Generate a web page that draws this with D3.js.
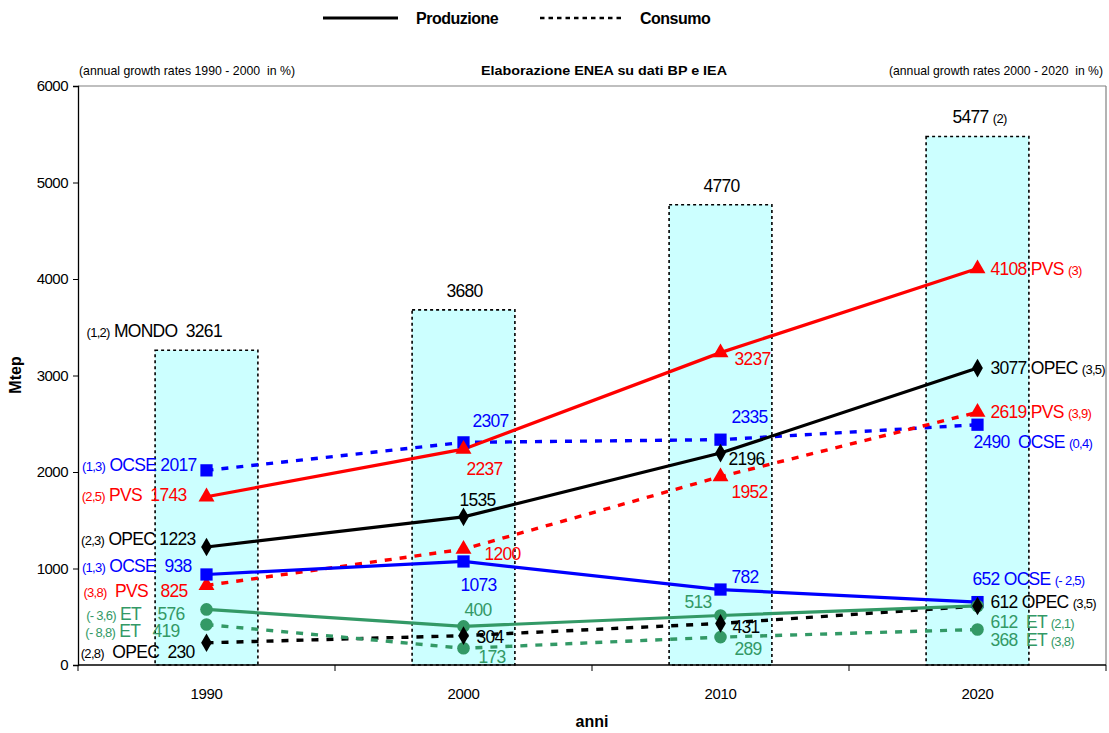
<!DOCTYPE html>
<html>
<head>
<meta charset="utf-8">
<script src="https://cdn.jsdelivr.net/npm/d3@7"></script>
<style>
  html, body { margin: 0; padding: 0; background: #fff; }
  svg { display: block; font-family: "Liberation Sans", Arial, sans-serif; }
  text { white-space: pre; }
</style>
</head>
<body>
<svg id="chart" width="1109" height="733"></svg>
<script>
// ---- data (Mtep) ----
const years = ["1990", "2000", "2010", "2020"];
const yTicks = [0, 1000, 2000, 3000, 4000, 5000, 6000];

// world total (bars)
const mondo = [3261, 3680, 4770, 5477];
const mondoRate1990 = "(1,2)";
const mondoRate2020 = "(2)";

// production (solid lines)
const prodOCSE = [938, 1073, 782, 652];
const prodOPEC = [1223, 1535, 2196, 3077];
const prodPVS  = [1743, 2237, 3237, 4108];
const prodET   = [576, 400, 513, 612];

// consumption (dashed lines)
const consOCSE = [2017, 2307, 2335, 2490];
const consOPEC = [230, 304, 431, 612];
const consPVS  = [825, 1200, 1952, 2619];
const consET   = [419, 173, 289, 368];

// series order, names and annual growth rates
const seriesValues = [prodOCSE, prodOPEC, prodPVS, prodET, consOCSE, consOPEC, consPVS, consET];
const seriesNames  = ["OCSE", "OPEC", "PVS", "ET", "OCSE", "OPEC", "PVS", "ET"];
const seriesKinds  = ["prod", "prod", "prod", "prod", "cons", "cons", "cons", "cons"];
const rates1990    = ["(1,3)", "(2,3)", "(2,5)", "(- 3,6)", "(1,3)", "(2,8)", "(3,8)", "(- 8,8)"];
const rates2020    = ["(- 2,5)", "(3,5)", "(3)", "(2,1)", "(0,4)", "(3,5)", "(3,9)", "(3,8)"];

// ---- styles ----
const colors  = ["#0000FF", "#000000", "#FF0000", "#339966", "#0000FF", "#000000", "#FF0000", "#339966"];
const markers = ["square", "diamond", "triangle", "circle", "square", "diamond", "triangle", "circle"];
// label placement per point: [dx, dy(baseline), anchor]
const labelPlace = [
  [[-15, -2.5, "end"], [-3, 30, "start"], [11, -6.5, "start"], [-5, -17, "start"]],   // prod OCSE
  [[-11, -2, "end"], [-4, -11, "start"], [8, 12, "start"], [13, 6, "start"]],         // prod OPEC
  [[-20, 4, "end"], [3, 26, "start"], [14, 12, "start"], [13, 6.5, "start"]],         // prod PVS
  [[-22, 11, "end"], [1, -10, "start"], [-9, -7.5, "end"], [13, 22, "start"]],        // prod ET
  [[-10, 1, "end"], [9, -15.5, "start"], [11, -17, "start"], [-4, 23, "start"]],      // cons OCSE
  [[-12, 15, "end"], [13, 7, "start"], [12, 10, "start"], [13, 2, "start"]],          // cons OPEC
  [[-19, 12, "end"], [21, 11, "start"], [11, 21, "start"], [13, 6, "start"]],         // cons PVS
  [[-27, 12.5, "end"], [15, 15, "start"], [14, 18, "start"], [13, 17, "start"]]       // cons ET
];
// spacing used inside the first / last labels
const gap1990 = [[" ", "  "], [" ", " "], [" ", "  "], [" ", "    "], [" ", " "], ["  ", "  "], ["  ", "   "], [" ", "   "]];
const gap2020 = [" ", " ", " ", "  ", "  ", " ", " ", "  "];

const svg = d3.select("#chart");
const margin = { left: 78, right: 1106, top: 86, bottom: 665 };

const x = d3.scaleBand().domain(years).range([margin.left, margin.right]).padding(0);
const y = d3.scaleLinear().domain([0, 6000]).range([margin.bottom, margin.top]);
const cx = d => x(d) + x.bandwidth() / 2;

const bigFont = 17.5, smallFont = 13, spacing = "-0.7px";

// ---- plot frame ----
svg.append("line").attr("x1", margin.left).attr("x2", margin.right)
  .attr("y1", margin.top).attr("y2", margin.top).attr("stroke", "#808080").attr("stroke-width", 1.2);
svg.append("line").attr("x1", margin.right).attr("x2", margin.right)
  .attr("y1", margin.top).attr("y2", margin.bottom).attr("stroke", "#808080").attr("stroke-width", 1.2);

// ---- bars: world total ----
const barW = x.bandwidth() * 0.4;
svg.append("g").selectAll("rect").data(mondo).join("rect")
  .attr("x", (d, i) => cx(years[i]) - barW / 2)
  .attr("y", d => y(d))
  .attr("width", barW)
  .attr("height", d => y(0) - y(d))
  .attr("fill", "#CCFFFF")
  .attr("stroke", "#000")
  .attr("stroke-width", 1.6)
  .attr("stroke-dasharray", "3,3");

// ---- axes ----
const yAxis = svg.append("g").attr("transform", `translate(${margin.left},0)`)
  .call(d3.axisLeft(y).tickValues(yTicks).tickFormat(d3.format("d")).tickSize(5).tickPadding(5));
yAxis.select(".domain").attr("stroke", "#000").attr("stroke-width", 1.3);
yAxis.selectAll("text").attr("font-size", 15).attr("fill", "#000").attr("letter-spacing", "-0.5px")
  .attr("font-family", "Liberation Sans, Arial, sans-serif");

const xEdges = d3.range(years.length + 1).map(i => margin.left + i * x.bandwidth());
const xAxis = svg.append("g");
xAxis.append("line").attr("x1", margin.left).attr("x2", margin.right)
  .attr("y1", margin.bottom).attr("y2", margin.bottom).attr("stroke", "#000").attr("stroke-width", 1.3);
xAxis.selectAll("line.tick").data(xEdges).join("line").attr("class", "tick")
  .attr("x1", d => d).attr("x2", d => d).attr("y1", margin.bottom).attr("y2", margin.bottom + 6)
  .attr("stroke", "#000").attr("stroke-width", 1);
xAxis.selectAll("text").data(years).join("text")
  .attr("x", d => cx(d)).attr("y", 699).attr("text-anchor", "middle")
  .attr("font-size", 15).attr("letter-spacing", "-0.4px").text(d => d);

// axis titles
svg.append("text").attr("transform", "translate(21,375) rotate(-90)").attr("text-anchor", "middle")
  .attr("font-size", 16).attr("font-weight", "bold").text("Mtep");
svg.append("text").attr("x", 592).attr("y", 727).attr("text-anchor", "middle")
  .attr("font-size", 16).attr("font-weight", "bold").text("anni");

// headings
svg.append("text").attr("x", 79).attr("y", 75).attr("font-size", 13)
  .attr("textLength", 216).attr("lengthAdjust", "spacingAndGlyphs")
  .text("(annual growth rates 1990 - 2000  in %)");
svg.append("text").attr("x", 481).attr("y", 75).attr("font-size", 13.5)
  .attr("font-weight", "bold").attr("textLength", 246).attr("lengthAdjust", "spacingAndGlyphs")
  .text("Elaborazione ENEA su dati BP e IEA");
svg.append("text").attr("x", 889).attr("y", 75).attr("font-size", 13)
  .attr("textLength", 214).attr("lengthAdjust", "spacingAndGlyphs")
  .text("(annual growth rates 2000 - 2020  in %)");

// legend
const legend = svg.append("g");
legend.append("line").attr("x1", 323).attr("x2", 398).attr("y1", 18).attr("y2", 18)
  .attr("stroke", "#000").attr("stroke-width", 3);
legend.append("text").attr("x", 416).attr("y", 24).attr("font-size", 16).attr("font-weight", "bold")
  .attr("letter-spacing", "-0.5px").text("Produzione");
legend.append("line").attr("x1", 540).attr("x2", 622).attr("y1", 18).attr("y2", 18)
  .attr("stroke", "#000").attr("stroke-width", 2.5).attr("stroke-dasharray", "4.5,4");
legend.append("text").attr("x", 640).attr("y", 24).attr("font-size", 16).attr("font-weight", "bold")
  .attr("letter-spacing", "-0.5px").text("Consumo");

// ---- lines ----
const line = d3.line().x((d, i) => cx(years[i])).y(d => y(d));
const linesG = svg.append("g");
// consumption drawn first, production on top
[4, 5, 6, 7, 0, 1, 2, 3].forEach(s => {
  linesG.append("path").datum(seriesValues[s])
    .attr("d", line).attr("fill", "none")
    .attr("stroke", colors[s])
    .attr("stroke-width", seriesKinds[s] === "prod" ? 3.2 : 3.4)
    .attr("stroke-dasharray", seriesKinds[s] === "prod" ? null : "7,8");
});

// ---- markers ----
const symbolType = { square: d3.symbolSquare, diamond: d3.symbolDiamond, triangle: d3.symbolTriangle, circle: d3.symbolCircle };
const symbolSize = { square: 150, diamond: 100, triangle: 110, circle: 125 };
const markG = svg.append("g");
[4, 6, 0, 2, 7, 3, 5, 1].forEach(s => {
  const m = markers[s];
  markG.selectAll(null).data(seriesValues[s]).join("path")
    .attr("transform", (d, i) => `translate(${cx(years[i])},${y(d)})`)
    .attr("d", d3.symbol().type(symbolType[m]).size(symbolSize[m]))
    .attr("fill", colors[s]);
});

// ---- value labels ----
const labelG = svg.append("g");
function addLabel(xp, yp, anchor, color, parts) {
  const t = labelG.append("text").attr("x", xp).attr("y", yp).attr("text-anchor", anchor)
    .attr("fill", color).attr("letter-spacing", spacing);
  parts.forEach(([txt, size]) => t.append("tspan").attr("font-size", size).text(txt));
}
seriesValues.forEach((vals, s) => {
  vals.forEach((v, i) => {
    const [dx, dy, anchor] = labelPlace[s][i];
    const px = cx(years[i]) + dx, py = y(v) + dy;
    let parts;
    if (i === 0) {
      parts = [[rates1990[s], smallFont], [gap1990[s][0] + seriesNames[s] + gap1990[s][1] + v, bigFont]];
    } else if (i === years.length - 1) {
      parts = [[v + gap2020[s] + seriesNames[s] + " ", bigFont], [rates2020[s], smallFont]];
    } else {
      parts = [[String(v), bigFont]];
    }
    addLabel(px, py, anchor, colors[s], parts);
  });
});

// world total labels above bars
mondo.forEach((v, i) => {
  const xc = cx(years[i]);
  if (i === 0) {
    addLabel(xc - 120, y(v) - 13, "start", "#000",
      [[mondoRate1990, smallFont], [" MONDO  " + v, bigFont]]);
  } else if (i === years.length - 1) {
    addLabel(xc - 25, y(v) - 13, "start", "#000", [[v + " ", bigFont], [mondoRate2020, smallFont]]);
  } else {
    addLabel(xc + 1, y(v) - 13, "middle", "#000", [[String(v), bigFont]]);
  }
});
</script>
</body>
</html>
